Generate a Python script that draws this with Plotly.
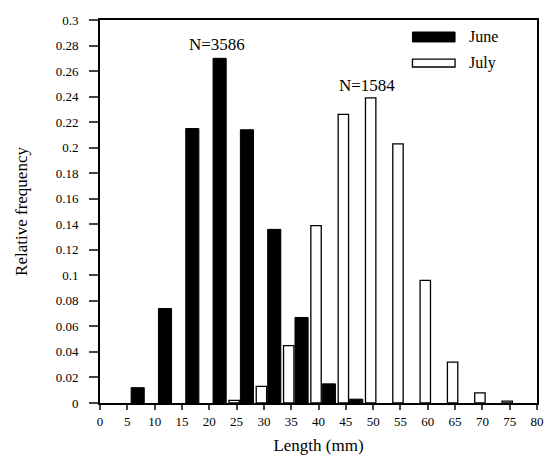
import plotly.graph_objects as go

# Data (None = no bar)
bins = [5, 10, 15, 20, 25, 30, 35, 40, 45, 50, 55, 60, 65, 70, 75]
june = [0.012, 0.074, 0.215, 0.270, 0.214, 0.136, 0.067, 0.015, 0.003, None, None, None, None, None, None]
july = [None, None, None, None, 0.002, 0.013, 0.045, 0.139, 0.226, 0.239, 0.203, 0.096, 0.032, 0.008, 0.0015]
x_ticks = list(range(0, 81, 5))
y_ticks = [0, 0.02, 0.04, 0.06, 0.08, 0.1, 0.12, 0.14, 0.16, 0.18, 0.2, 0.22, 0.24, 0.26, 0.28, 0.3]
y_tick_text = ["0", "0.02", "0.04", "0.06", "0.08", "0.1", "0.12", "0.14", "0.16", "0.18",
               "0.2", "0.22", "0.24", "0.26", "0.28", "0.3"]

FONT = "Liberation Serif"

fig = go.Figure()
fig.add_trace(go.Bar(x=bins, y=july, name="July", offset=-1.4, width=1.9,
                     marker=dict(color="white", line=dict(color="black", width=1.3))))
fig.add_trace(go.Bar(x=bins, y=june, name="June", offset=0.7, width=2.4,
                     marker=dict(color="black", line=dict(color="black", width=1))))

fig.update_layout(
    width=545, height=458,
    margin=dict(l=100, r=8, t=20, b=55),
    barmode="overlay",
    showlegend=False,
    plot_bgcolor="white", paper_bgcolor="white",
    font=dict(family=FONT, color="black", size=13),
)
fig.update_xaxes(range=[0, 80], tickvals=x_ticks, ticks="outside", ticklen=5, tickwidth=1.5,
                 showline=True, linecolor="black", linewidth=1.8, mirror=True, showgrid=False,
                 zeroline=False, tickfont=dict(size=13), ticklabeloverflow="allow",
                 automargin=False,
                 title=dict(text="Length (mm)", font=dict(size=17), standoff=12))
fig.update_yaxes(range=[0, 0.3], tickvals=y_ticks, ticktext=y_tick_text, ticks="outside",
                 ticklen=9, tickwidth=1.5, showline=True, linecolor="black", linewidth=1.8,
                 mirror=True, showgrid=False, zeroline=False, tickfont=dict(size=13),
                 ticklabelstandoff=8, automargin=False,
                 title=dict(text="Relative frequency", font=dict(size=17), standoff=24))

fig.add_annotation(x=21.4, y=0.281, text="N=3586", showarrow=False, font=dict(size=17))
fig.add_annotation(x=48.9, y=0.249, text="N=1584", showarrow=False, font=dict(size=17))

# custom legend
fig.add_shape(type="rect", x0=57.2, x1=65.0, y0=0.2828, y1=0.2906,
              fillcolor="black", line=dict(color="black", width=1))
fig.add_shape(type="rect", x0=57.2, x1=65.0, y0=0.2632, y1=0.2694,
              fillcolor="white", line=dict(color="black", width=1.3))
fig.add_annotation(x=67.2, y=0.2867, text="June", showarrow=False, xanchor="left",
                   font=dict(size=16))
fig.add_annotation(x=67.2, y=0.2663, text="July", showarrow=False, xanchor="left",
                   font=dict(size=16))

fig.write_html("out.html")
